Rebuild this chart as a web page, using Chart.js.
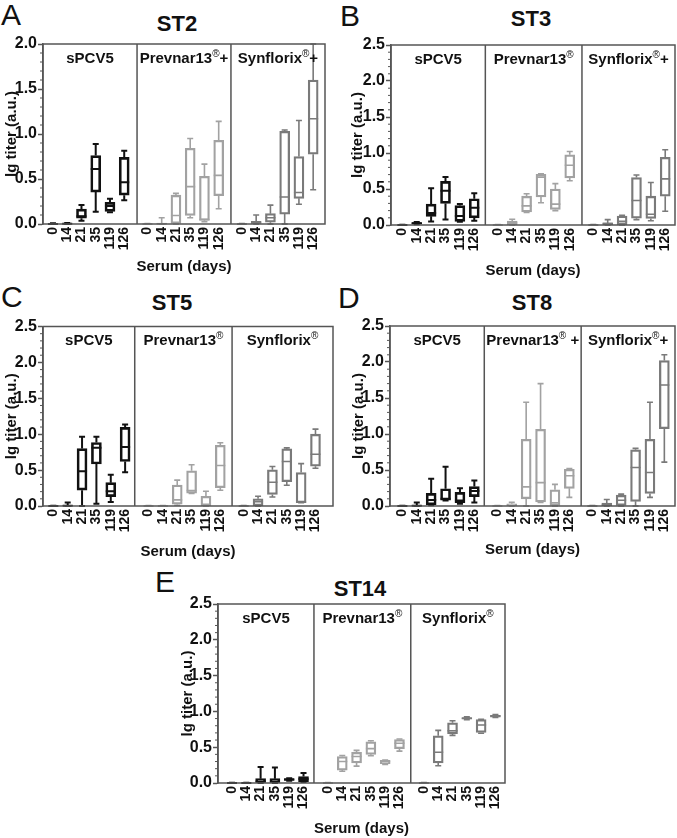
<!DOCTYPE html>
<html>
<head>
<meta charset="utf-8">
<script src="https://cdn.jsdelivr.net/npm/chart.js@4.4.0/dist/chart.umd.min.js"></script>
<style>
  body { margin: 0; background: #fff; width: 677px; height: 838px; position: relative; overflow: hidden;
         font-family: "Liberation Sans", Arial, sans-serif; color: #111; }
  canvas { position: absolute; }
  .letter { position: absolute; font-size: 30px; line-height: 30px; }
  .title { position: absolute; font-size: 22px; line-height: 22px; font-weight: bold;
           transform: translate(-50%, -50%); white-space: nowrap; }
</style>
</head>
<body>
<div class="letter" style="left:1px;top:0px">A</div>
<div class="letter" style="left:340px;top:1px">B</div>
<div class="letter" style="left:1px;top:282px">C</div>
<div class="letter" style="left:338px;top:283px">D</div>
<div class="letter" style="left:155px;top:567px">E</div>

<div class="title" style="left:177px;top:24px">ST2</div>
<div class="title" style="left:531px;top:19px">ST3</div>
<div class="title" style="left:172px;top:303px">ST5</div>
<div class="title" style="left:532px;top:303px">ST8</div>
<div class="title" style="left:360px;top:589px">ST14</div>

<canvas id="st2"></canvas>
<canvas id="st3"></canvas>
<canvas id="st5"></canvas>
<canvas id="st8"></canvas>
<canvas id="st14"></canvas>

<script>
// days of serum sampling, same for every group
const days = ["0", "14", "21", "35", "119", "126"];

// each box: [min, q1, median, q3, max] of lg titer
const st2Spcv5 = [[0, 0, 0, 0.004, 0.008], [0, 0, 0.003, 0.006, 0.01], [0.035, 0.065, 0.085, 0.165, 0.21], [0.135, 0.355, 0.61, 0.76, 0.89], [0.13, 0.14, 0.2, 0.24, 0.28], [0.265, 0.32, 0.465, 0.74, 0.815]];
const st2Prevnar = [[0, 0, 0, 0, 0.005], [0, 0, 0.003, 0.01, 0.07], [0, 0, 0.095, 0.32, 0.34], [0.07, 0.095, 0.415, 0.84, 0.95], [0.025, 0.04, 0.05, 0.53, 0.665], [0.17, 0.315, 0.54, 0.93, 1.14]];
const st2Synflorix = [[0, 0, 0, 0, 0.005], [0, 0, 0.015, 0.03, 0.1], [0, 0.02, 0.07, 0.115, 0.21], [0, 0.11, 0.3, 1.03, 1.045], [0.22, 0.285, 0.35, 0.75, 1.15], [0.38, 0.775, 1.17, 1.6, 2.0]];

const st3Spcv5 = [[0, 0, 0, 0, 0.005], [0.01, 0.015, 0.025, 0.035, 0.04], [0.05, 0.12, 0.165, 0.29, 0.51], [0.075, 0.3, 0.475, 0.605, 0.665], [0.045, 0.05, 0.125, 0.27, 0.29], [0.06, 0.1, 0.24, 0.365, 0.44]];
const st3Prevnar = [[0, 0, 0, 0, 0.005], [0, 0.005, 0.03, 0.055, 0.08], [0.175, 0.18, 0.265, 0.4, 0.435], [0.31, 0.39, 0.665, 0.705, 0.71], [0.2, 0.215, 0.29, 0.5, 0.575], [0.615, 0.655, 0.83, 0.975, 1.02]];
const st3Synflorix = [[0, 0, 0, 0, 0.005], [0, 0.005, 0.02, 0.03, 0.075], [0, 0.005, 0.05, 0.125, 0.135], [0.075, 0.095, 0.34, 0.66, 0.695], [0.06, 0.09, 0.15, 0.4, 0.59], [0.19, 0.4, 0.64, 0.94, 1.045]];

const st5Spcv5 = [[0, 0, 0, 0, 0.005], [0, 0, 0.005, 0.01, 0.05], [0, 0.22, 0.485, 0.8, 0.965], [0.03, 0.585, 0.81, 0.885, 0.965], [0.055, 0.13, 0.205, 0.325, 0.435], [0.47, 0.62, 0.82, 1.095, 1.135]];
const st5Prevnar = [[0, 0, 0, 0, 0.005], [0, 0, 0, 0, 0.005], [0.01, 0.025, 0.085, 0.29, 0.36], [0.175, 0.18, 0.215, 0.49, 0.575], [0, 0, 0.01, 0.135, 0.205], [0.22, 0.255, 0.565, 0.845, 0.88]];
const st5Synflorix = [[0, 0, 0, 0, 0.005], [0, 0.005, 0.06, 0.1, 0.135], [0.125, 0.16, 0.33, 0.505, 0.55], [0.29, 0.34, 0.62, 0.795, 0.81], [0.045, 0.045, 0.055, 0.465, 0.59], [0.525, 0.555, 0.72, 1.0, 1.07]];

const st8Spcv5 = [[0, 0, 0, 0, 0.005], [0, 0, 0.005, 0.01, 0.05], [0.01, 0.015, 0.085, 0.175, 0.38], [0.075, 0.08, 0.1, 0.24, 0.545], [0.03, 0.045, 0.075, 0.19, 0.245], [0.05, 0.13, 0.21, 0.27, 0.355]];
const st8Prevnar = [[0, 0, 0, 0, 0.005], [0, 0, 0.01, 0.03, 0.05], [0, 0.1, 0.265, 0.925, 1.44], [0.05, 0.055, 0.325, 1.065, 1.7], [0, 0, 0.045, 0.225, 0.3], [0.12, 0.245, 0.42, 0.51, 0.52]];
const st8Synflorix = [[0, 0, 0, 0, 0.005], [0, 0.005, 0.015, 0.04, 0.09], [0, 0, 0.08, 0.15, 0.165], [0, 0.065, 0.535, 0.78, 0.8], [0.12, 0.175, 0.465, 0.925, 1.44], [0.61, 1.075, 1.68, 2.02, 2.1]];

const st14Spcv5 = [[0, 0, 0, 0, 0.005], [0, 0, 0, 0, 0.005], [0, 0, 0.02, 0.06, 0.225], [0, 0, 0.02, 0.06, 0.215], [0.03, 0.035, 0.05, 0.06, 0.065], [0.015, 0.02, 0.055, 0.09, 0.14]];
const st14Prevnar = [[0, 0, 0, 0, 0.005], [0.165, 0.18, 0.3, 0.37, 0.385], [0.235, 0.28, 0.37, 0.43, 0.455], [0.38, 0.4, 0.48, 0.575, 0.59], [0.26, 0.27, 0.3, 0.315, 0.32], [0.445, 0.48, 0.555, 0.605, 0.615]];
const st14Synflorix = [[0, 0, 0, 0, 0.005], [0.24, 0.28, 0.43, 0.66, 0.735], [0.665, 0.69, 0.73, 0.84, 0.87], [0.885, 0.89, 0.905, 0.915, 0.925], [0.695, 0.705, 0.81, 0.885, 0.89], [0.915, 0.92, 0.935, 0.945, 0.955]];

// group headers: [name, superscript, tail]
const st2Groups = [["sPCV5", "", ""], ["Prevnar13", "®", "+"], ["Synflorix", "®", "+"]];
const st3Groups = [["sPCV5", "", ""], ["Prevnar13", "®", ""], ["Synflorix", "®", "+"]];
const st5Groups = [["sPCV5", "", ""], ["Prevnar13", "®", ""], ["Synflorix", "®", ""]];
const st8Groups = [["sPCV5", "", ""], ["Prevnar13", "®", " +"], ["Synflorix", "®", "+"]];
const st14Groups = [["sPCV5", "", ""], ["Prevnar13", "®", ""], ["Synflorix", "®", ""]];

const fam = "'Liberation Sans', Arial, Helvetica, sans-serif";
Chart.defaults.font.family = fam;
Chart.defaults.color = "#111";

const boxColors = ["#111111", "#a2a2a2", "#7a7a7a"];
const boxWidths = [2, 1.6, 1.6];
const frameColor = "#555555";

function makePanel(id, series, groupLabels, yMax, lay) {
  const el = document.getElementById(id);
  el.width = lay.w;
  el.height = lay.h;
  el.style.left = lay.cx + "px";
  el.style.top = lay.cy + "px";

  const pos = (g, i) => lay.off + lay.gap * g + i;
  const tickPos = [];
  series.forEach((s, g) => s.forEach((b, i) => tickPos.push(pos(g, i))));
  const bounds = [0, lay.div[0], lay.div[1], lay.xMax];

  const boxPlugin = {
    id: "boxes_" + id,
    afterDatasetsDraw(chart) {
      const { ctx, chartArea: a, scales: { x, y } } = chart;

      // whiskers, caps, medians
      ctx.save();
      ctx.beginPath();
      ctx.rect(a.left, a.top - 1, a.right - a.left, a.bottom - a.top + 2);
      ctx.clip();
      series.forEach((s, g) => {
        ctx.strokeStyle = boxColors[g];
        ctx.lineWidth = boxWidths[g];
        s.forEach((b, i) => {
          const px = x.getPixelForValue(pos(g, i));
          const [lo, q1, med, q3, hi] = b.map(v => y.getPixelForValue(v));
          ctx.beginPath();
          ctx.moveTo(px, hi); ctx.lineTo(px, q3);
          ctx.moveTo(px, q1); ctx.lineTo(px, lo);
          ctx.moveTo(px - 3, hi); ctx.lineTo(px + 3, hi);
          ctx.moveTo(px - 3, lo); ctx.lineTo(px + 3, lo);
          ctx.moveTo(px - 5, med); ctx.lineTo(px + 5, med);
          ctx.stroke();
        });
      });
      ctx.restore();

      // frame and group dividers
      ctx.save();
      ctx.strokeStyle = frameColor;
      ctx.lineWidth = 1.5;
      ctx.strokeRect(a.left, a.top, a.right - a.left, a.bottom - a.top);
      ctx.beginPath();
      lay.div.forEach(d => {
        const dx = x.getPixelForValue(d);
        ctx.moveTo(dx, a.top); ctx.lineTo(dx, a.bottom);
      });
      ctx.stroke();
      // minor ticks every 0.1
      ctx.beginPath();
      ctx.lineWidth = 1;
      for (let k = 1; k < Math.round(yMax * 10); k++) {
        if (k % 5 === 0) continue;
        const ty = y.getPixelForValue(k / 10);
        ctx.moveTo(a.left - 3, ty); ctx.lineTo(a.left, ty);
      }
      ctx.stroke();

      // group headers
      const bigFont = "bold 15px " + fam;
      const supFont = "10px " + fam;
      ctx.fillStyle = "#111";
      ctx.textAlign = "left";
      ctx.textBaseline = "alphabetic";
      groupLabels.forEach((lab, g) => {
        const mid = (x.getPixelForValue(bounds[g]) + x.getPixelForValue(bounds[g + 1])) / 2;
        ctx.font = bigFont;
        const w0 = ctx.measureText(lab[0]).width;
        const w2 = ctx.measureText(lab[2]).width;
        ctx.font = supFont;
        const w1 = ctx.measureText(lab[1]).width;
        const sx = mid - (w0 + w1 + w2) / 2;
        const by = a.top + 18.5;
        ctx.font = bigFont;
        ctx.fillText(lab[0], sx, by);
        ctx.font = supFont;
        ctx.fillText(lab[1], sx + w0, by - 6);
        ctx.font = bigFont;
        ctx.fillText(lab[2], sx + w0 + w1, by);
      });
      ctx.restore();
    }
  };

  return new Chart(el, {
    type: "bar",
    data: {
      datasets: series.map((s, g) => ({
        label: groupLabels[g].join(""),
        data: s.map((b, i) => ({ x: pos(g, i), y: [b[1], b[3]] })),
        borderColor: boxColors[g],
        backgroundColor: "rgba(0,0,0,0)",
        borderWidth: boxWidths[g],
        borderSkipped: false,
        barThickness: 10,
        grouped: false,
      })),
    },
    options: {
      responsive: false,
      animation: false,
      layout: { padding: { left: 0, top: lay.pt, right: lay.pr, bottom: 0 } },
      plugins: { legend: { display: false }, tooltip: { enabled: false } },
      scales: {
        x: {
          type: "linear",
          min: 0,
          max: lay.xMax,
          offset: false,
          afterBuildTicks: s => { s.ticks = tickPos.map(v => ({ value: v })); },
          ticks: {
            autoSkip: false,
            minRotation: 90,
            maxRotation: 90,
            padding: 3,
            font: { size: 14, weight: "bold" },
            callback: (v, i) => days[i % days.length],
          },
          grid: { display: false, drawTicks: false },
          border: { display: false },
          title: { display: true, text: "Serum (days)", font: { size: 15, weight: "bold" }, padding: { top: 0, bottom: lay.tpb } },
          afterFit: s => { s.height = lay.xh; s.paddingLeft = 0; s.paddingRight = 0; },
        },
        y: {
          min: 0,
          max: yMax,
          ticks: { stepSize: 0.5, padding: 1, font: { size: 16, weight: "bold" }, callback: v => v.toFixed(1) },
          grid: { drawOnChartArea: false, tickLength: 5, tickColor: frameColor, tickWidth: 1.5 },
          border: { color: frameColor, width: 1.5 },
          title: { display: true, text: "lg titer (a.u.)", font: { size: 15, weight: "bold" }, padding: { top: lay.ypt, bottom: 0 } },
          afterFit: s => { s.width = lay.yw; s.paddingTop = 0; s.paddingBottom = 0; },
        },
      },
    },
    plugins: [boxPlugin],
  });
}

makePanel("st2", [st2Spcv5, st2Prevnar, st2Synflorix], st2Groups, 2.0,
  { cx: 0, cy: 30, w: 332, h: 255, yw: 43, pt: 14, pr: 7, xh: 61, tpb: 9, ypt: 3,
    off: 0.70, gap: 6.63, xMax: 19.79, div: [6.6, 13.19] });
makePanel("st3", [st3Spcv5, st3Prevnar, st3Synflorix], st3Groups, 2.5,
  { cx: 345, cy: 30, w: 332, h: 258, yw: 46, pt: 15, pr: 2, xh: 63, tpb: 8, ypt: 4,
    off: 0.79, gap: 6.64, xMax: 19.75, div: [6.56, 13.28] });
makePanel("st5", [st5Spcv5, st5Prevnar, st5Synflorix], st5Groups, 2.5,
  { cx: 0, cy: 312, w: 338, h: 256, yw: 43, pt: 14.5, pr: 5, xh: 62, tpb: 7, ypt: 3,
    off: 0.72, gap: 6.63, xMax: 20.2, div: [6.39, 13.17] });
makePanel("st8", [st8Spcv5, st8Prevnar, st8Synflorix], st8Groups, 2.5,
  { cx: 345, cy: 312, w: 332, h: 256, yw: 45, pt: 14, pr: 2, xh: 62, tpb: 9, ypt: 5,
    off: 0.86, gap: 6.6, xMax: 19.8, div: [6.55, 13.28] });
makePanel("st14", [st14Spcv5, st14Prevnar, st14Synflorix], st14Groups, 2.5,
  { cx: 170, cy: 590, w: 340, h: 248, yw: 48, pt: 14, pr: 5, xh: 55, tpb: 0, ypt: 9,
    off: 0.98, gap: 6.71, xMax: 20.07, div: [6.71, 13.48] });
</script>
</body>
</html>
